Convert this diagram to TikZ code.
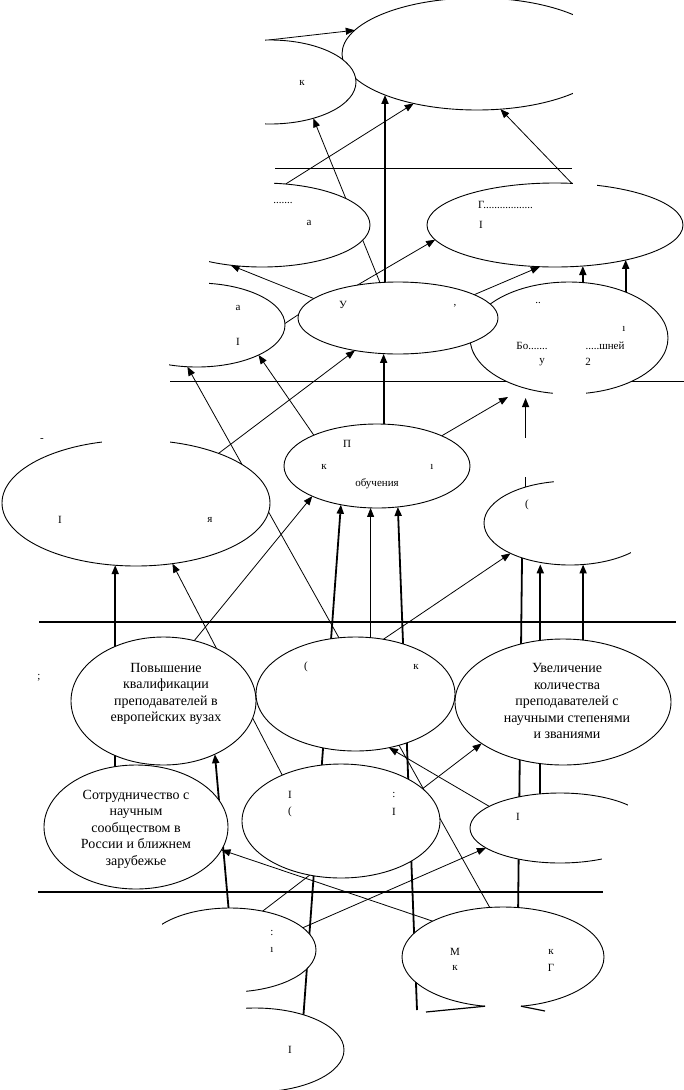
\documentclass[tikz,border=0pt]{standalone}
\usepackage{fontspec}
\setmainfont{Liberation Serif}
\usetikzlibrary{shapes.geometric,arrows.meta,calc}
\pgfdeclarelayer{bg}
\pgfdeclarelayer{lines}
\pgfsetlayers{bg,lines,main}
\begin{document}
\begin{tikzpicture}[x=1pt,y=-1pt,
  ell/.style={ellipse,draw,fill=white,line width=0.9pt,inner sep=0pt,outer sep=0pt},
  arr/.style={-{Triangle[length=9pt,width=7pt]},line width=0.8pt},
  thk/.style={-{Triangle[length=9pt,width=7pt]},line width=1.8pt},
  thkplain/.style={line width=1.8pt},
  thinplain/.style={line width=0.8pt},
  septhin/.style={line width=1pt},
  septhick/.style={line width=2pt},
  patch/.style={fill=white,draw=none},
  txt/.style={align=center,inner sep=0pt,font=\fontsize{14}{16.5}\selectfont},
  frag/.style={inner sep=0pt,font=\fontsize{11}{13}\selectfont}]
\begin{pgfonlayer}{bg}
\fill[white] (0,0) rectangle (684,1090);
\end{pgfonlayer}
\useasboundingbox (0,0) rectangle (684,1090);

% ---------- ellipses ----------
\node[ell,minimum width=270pt,minimum height=112pt] (top) at (477,54) {};
\node[ell,minimum width=172pt,minimum height=84pt] (tl) at (270,82) {};
\node[ell,minimum width=216pt,minimum height=84pt] (C) at (262,225) {};
\node[ell,minimum width=256pt,minimum height=84pt] (D) at (555,225) {};
\node[ell,minimum width=198pt,minimum height=112pt] (G) at (569,338) {};
\node[ell,minimum width=200pt,minimum height=72pt] (mid) at (398,318) {};
\node[ell,minimum width=176pt,minimum height=84pt] (F) at (197,325) {};
\node[ell,minimum width=268pt,minimum height=126pt] (H) at (136,503) {};
\node[ell,minimum width=186pt,minimum height=84pt] (I) at (377,466) {};
\node[ell,minimum width=172pt,minimum height=84pt] (J) at (570,523) {};
\node[ell,minimum width=185pt,minimum height=128pt] (K) at (163.5,701) {};
\node[ell,minimum width=199pt,minimum height=114pt] (L) at (355.5,694) {};
\node[ell,minimum width=216pt,minimum height=126pt] (M) at (563,702) {};
\node[ell,minimum width=184pt,minimum height=124pt] (N) at (136,827) {};
\node[ell,minimum width=198pt,minimum height=114pt] (O) at (341,821) {};
\node[ell,minimum width=180pt,minimum height=70pt] (P) at (560,828) {};
\node[ell,minimum width=172pt,minimum height=84pt] (Q) at (230,950) {};
\node[ell,minimum width=178pt,minimum height=84pt] (R) at (255,1050) {};
\node[ell,minimum width=202pt,minimum height=100pt] (S) at (503,957) {};

% ---------- free ends ----------
\coordinate (g1) at (508,397);
\coordinate (g2) at (525,398);
\coordinate (f1) at (417,1010);
\coordinate (t1) at (426,1012);
\coordinate (t2) at (545,1011);
\coordinate (s1a) at (275,168); \coordinate (s1b) at (572,168);
\coordinate (s2a) at (170,381); \coordinate (s2b) at (684,381);
\coordinate (s3a) at (39,622);  \coordinate (s3b) at (676,622);
\coordinate (s4a) at (38,892);  \coordinate (s4b) at (603,892);

% ---------- connectors ----------
\begin{pgfonlayer}{lines}
\draw[septhin] (s1a) -- (s1b);
\draw[septhin] (s2a) -- (s2b);
\draw[septhick] (s3a) -- (s3b);
\draw[septhick] (s4a) -- (s4b);

\draw[arr] (tl.92) -- (top.169);
\draw[arr] (mid.117) -- (tl.-40);
\draw[thk] (mid.110) -- (mid.110 |- top.204);
\draw[arr] (C.60.7) -- (top.218);
\draw[arr] (D.68) -- (top.-67.3);

\draw[arr] (mid.167) -- (C.-128);
\draw[arr] (mid.141) -- (D.187);
\draw[arr] (mid.17) -- (D.250);
\draw[thk] (G.76) -- (G.76 |- D.-56);
\draw[thk] (G.39) -- (G.39 |- D.-26);
\draw[thinplain] (F.1) -- (mid.178);

\draw[arr] (S.105.8) -- (F.-103.5);
\draw[arr] (I.154.5) -- (F.-26);
\draw[arr] (H.31.4) -- (mid.-143);
\draw[thk] (I.81) -- (I.81 |- mid.-97);
\draw[arr] (I.25) -- (g1);
\draw[line width=1.2pt,-{Triangle[length=9pt,width=7pt]}] (J.141) -- (J.141 |- g2);

\draw[arr] (K.63) -- (I.-155);
\draw[arr] (O.142.7) -- (H.-59.3);
\draw[thk] (N.109) -- (N.109 |- H.-109);
\draw[thk] (Q.92.7) -- (K.-46.7);
\draw[thk] (R.36.7) -- (I.-133);
\draw[arr] (L.75.6) -- (L.75.6 |- I.-84);
\draw[thk] (f1) -- (I.-63);
\draw[arr] (L.63.4) -- (J.-153.4);
\draw[thkplain] (S.73) -- (J.-144);
\draw[thk] (P.120) -- (P.120 |- J.-110);
\draw[thk] (M.72) -- (M.72 |- J.-72);

\draw[arr] (Q.50.6) -- (M.-153.4);
\draw[arr] (P.163.7) -- (L.-58.7);
\draw[arr] (S.153.4) -- (N.-15);
\draw[arr] (Q.17.7) -- (P.-165);
\end{pgfonlayer}

% ---------- texts ----------
\node[txt] (Kt) at (166,694) {Повышение\\квалификации\\преподавателей в\\европейских вузах};
\node[txt] (Mt) at (567,701) {Увеличение\\количества\\преподавателей с\\научными степенями\\и званиями};
\node[txt] (Nt) at (136,829) {Сотрудничество с\\научным\\сообществом в\\России и ближнем\\зарубежье};

\node[frag] (x1) at (302,83) {к};
\node[frag] (x2) at (283,203) {.......};
\node[frag] (x3) at (309,223) {а};
\node[frag,anchor=west] (x4) at (478,205) {Г..................};
\node[frag] (x5) at (481,225) {I};
\node[frag] (x6) at (343,305) {У};
\node[frag] (x7) at (455,306) {,};
\node[frag] (x8) at (238,308) {а};
\node[frag] (x9) at (238,342) {I};
\node[frag] (x10) at (538,303) {..};
\node[frag] (x11) at (624,329) {ı};
\node[frag] (x12) at (532,346) {Бо.......};
\node[frag] (x13) at (605,346) {.....шней};
\node[frag] (x14) at (542,362) {у};
\node[frag] (x15) at (588,362) {2};
\node[frag] (x16) at (42,440) {-};
\node[frag] (x17) at (60,520) {I};
\node[frag] (x18) at (210,520) {я};
\node[frag] (x19) at (347,444) {П};
\node[frag] (x20) at (324,467) {к};
\node[frag] (x21) at (432,467) {ı};
\node[frag] (x22) at (377,484) {обучения};
\node[frag] (x23) at (527,505) {(};
\node[frag] (x24) at (306,667) {(};
\node[frag] (x25) at (416,667) {к};
\node[frag] (x26) at (39,678) {;};
\node[frag] (x27) at (290,795) {I};
\node[frag] (x28) at (290,812) {(};
\node[frag] (x29) at (394,795) {:};
\node[frag] (x30) at (394,812) {I};
\node[frag] (x31) at (518,817) {I};
\node[frag] (x32) at (272,933) {:};
\node[frag] (x33) at (272,950) {ı};
\node[frag] (x34) at (290,1050) {I};
\node[frag] (x35) at (455,952) {М};
\node[frag] (x36) at (551,952) {к};
\node[frag] (x37) at (455,968) {к};
\node[frag] (x38) at (551,968) {Г};

% ---------- erased parts ----------
\fill[patch] (573,-2) rectangle (686,115);
\fill[patch] (140,28) rectangle (265,130);
\fill[patch] (140,178) rectangle (274,226);
\fill[patch] (140,226) rectangle (209,272);
\fill[patch] (573,177) rectangle (597,190);
\fill[patch] (100,279) rectangle (209,326);
\fill[patch] (100,326) rectangle (169,372);
\fill[patch] (553,386) rectangle (586,399);
\fill[patch] (102,435) rectangle (170,446);
\fill[patch] (519,438) rectangle (531,477);
\fill[patch] (554,476) rectangle (686,523);
\fill[patch] (631,523) rectangle (686,570);
\fill[patch] (628,788) rectangle (686,828);
\fill[patch] (602,828) rectangle (686,868);
\fill[patch] (100,900) rectangle (162,950);
\fill[patch] (100,950) rectangle (246,996);
\fill[patch] (150,1000) rectangle (246,1050);
\fill[patch] (150,1050) rectangle (259,1092);
\fill[patch] (485,1000) rectangle (521,1012);

\draw[line width=1.2pt] (S.-110) -- (t1);
\draw[line width=1.2pt] (S.-70) -- (t2);
\end{tikzpicture}
\end{document}
